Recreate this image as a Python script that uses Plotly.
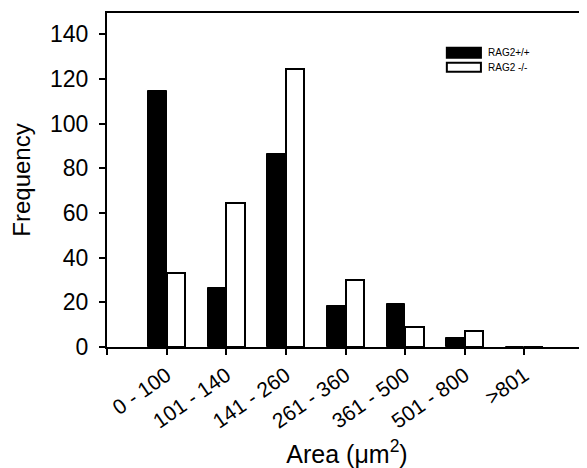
import plotly.graph_objects as go

categories = ["0 - 100", "101 - 140", "141 - 260", "261 - 360", "361 - 500", "501 - 800", ">801"]
rag2_wt = [114.4, 26.2, 86.4, 18.2, 19.3, 4.2, 0]
rag2_ko = [33.2, 64.3, 124.4, 30.0, 9.0, 7.3, 0]
series_names = ["RAG2+/+", "RAG2 -/-"]

xpos = list(range(1, len(categories) + 1))
font = "Liberation Sans, Arial, sans-serif"

fig = go.Figure()
fig.add_trace(go.Bar(
    x=xpos, y=rag2_wt, name=series_names[0], width=0.31, offset=-0.31,
    marker=dict(color="black", line=dict(color="black", width=1)),
))
fig.add_trace(go.Bar(
    x=xpos, y=rag2_ko, name=series_names[1], width=0.31, offset=0,
    marker=dict(color="white", line=dict(color="black", width=2)),
))

# legend drawn as swatches + labels (paper coordinates)
swatches = [(0.708, 0.779, 0.866, 0.896, "black"), (0.708, 0.779, 0.824, 0.851, "white")]
for (x0, x1, y0, y1, c), name in zip(swatches, series_names):
    fig.add_shape(type="rect", xref="paper", yref="paper", x0=x0, x1=x1, y0=y0, y1=y1,
                  fillcolor=c, line=dict(color="black", width=2))
    fig.add_annotation(xref="paper", yref="paper", x=0.790, y=(y0 + y1) / 2,
                       text=name, showarrow=False, xanchor="left", yanchor="middle",
                       font=dict(size=10))

# page body has an 8px margin, so the figure is 8px smaller and margins shifted
fig.update_layout(
    width=579, height=460,
    margin=dict(l=99, r=0, t=5, b=119),
    paper_bgcolor="white", plot_bgcolor="white",
    font=dict(family=font, color="black", size=15),
    showlegend=False,
    bargap=0,
)
fig.update_xaxes(
    range=[0, 8.05],
    tickvals=[0] + xpos, ticktext=[""] + categories,
    tickangle=-35, ticks="outside", ticklen=6, tickwidth=1.5, tickcolor="black",
    showline=True, linecolor="black", linewidth=2, mirror=True,
    showgrid=False, zeroline=False,
    tickfont=dict(size=21),
    title=dict(text="Area (\u03bcm<sup>2</sup>)", font=dict(size=25), standoff=18),
)
fig.update_yaxes(
    range=[0, 149.5],
    tickvals=[0, 20, 40, 60, 80, 100, 120, 140],
    ticks="outside", ticklen=6, tickwidth=1.5, tickcolor="black",
    ticklabelstandoff=6,
    showline=True, linecolor="black", linewidth=2, mirror=False,
    showgrid=False, zeroline=False,
    tickfont=dict(size=23),
    title=dict(text="Frequency", font=dict(size=24), standoff=17),
)

fig.write_html("out.html")
